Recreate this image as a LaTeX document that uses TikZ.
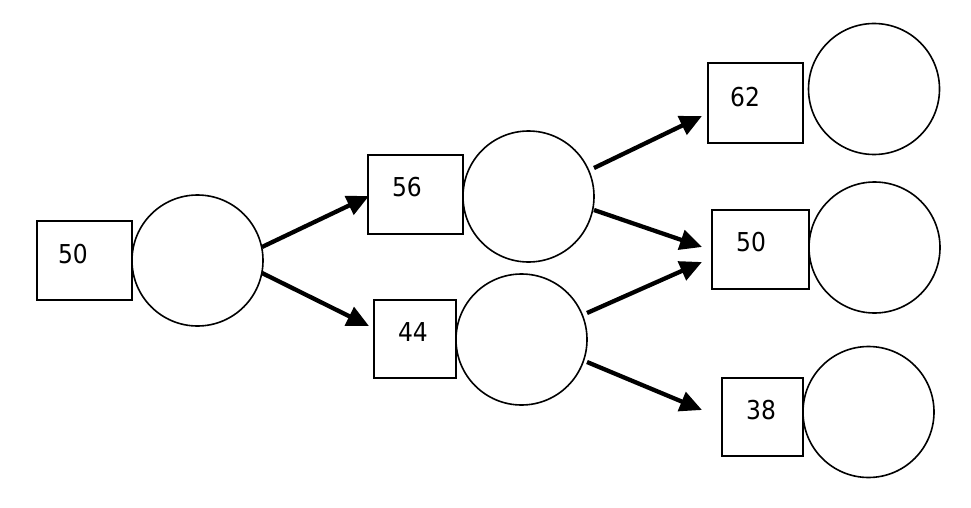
\documentclass[tikz,border=0pt]{standalone}
\usepackage{fontspec}
\setmainfont{DejaVu Sans Condensed}
\usetikzlibrary{arrows.meta}
\begin{document}
\begin{tikzpicture}[x=1pt,y=-1pt,
  circ/.style={draw,circle,line width=1.6pt,minimum size=131pt,inner sep=0pt},
  box/.style={draw,rectangle,line width=2pt,inner sep=0pt},
  num/.style={font=\fontsize{26pt}{30pt}\selectfont,inner sep=0pt},
  arr/.style={line width=4.3pt,-{Triangle[length=22pt,width=20pt]}}]
\useasboundingbox (0,0) rectangle (971,508);
% boxes
\node[box,minimum width=95pt,minimum height=79pt] (b1) at (84,260.5) {};
\node[box,minimum width=95pt,minimum height=79pt] (b2) at (415.5,194.5) {};
\node[box,minimum width=82pt,minimum height=78pt] (b3) at (415,339) {};
\node[box,minimum width=95pt,minimum height=80pt] (b4) at (755.5,103) {};
\node[box,minimum width=97pt,minimum height=79pt] (b5) at (760.5,249.5) {};
\node[box,minimum width=81pt,minimum height=78pt] (b6) at (762.5,417) {};
% numbers
\node[num] (t1) at (73,254) {50};
\node[num] (t2) at (407,187) {56};
\node[num] (t3) at (413,332) {44};
\node[num] (t4) at (745,97) {62};
\node[num] (t5) at (751,242) {50};
\node[num] (t6) at (761,410) {38};
% circles
\node[circ] (c1) at (197.5,260.5) {};
\node[circ] (c2) at (528.5,196.5) {};
\node[circ] (c3) at (521.5,339.5) {};
\node[circ] (c4) at (874,89) {};
\node[circ] (c5) at (874.5,247.5) {};
\node[circ] (c6) at (868.5,412) {};
% arrow ends
\coordinate (s1) at (262,247);
\coordinate (s2) at (262,273);
\coordinate (s3) at (594,168);
\coordinate (s4) at (594,210);
\coordinate (s5) at (587,313);
\coordinate (s6) at (587,362);
\coordinate (e1) at (369,196);
\coordinate (e2) at (369,326);
\coordinate (e3) at (702,116);
\coordinate (e4) at (702,247);
\coordinate (e5) at (702,262);
\coordinate (e6) at (702,410);
\draw[arr] (s1) -- (e1);
\draw[arr] (s2) -- (e2);
\draw[arr] (s3) -- (e3);
\draw[arr] (s4) -- (e4);
\draw[arr] (s5) -- (e5);
\draw[arr] (s6) -- (e6);
\end{tikzpicture}
\end{document}
